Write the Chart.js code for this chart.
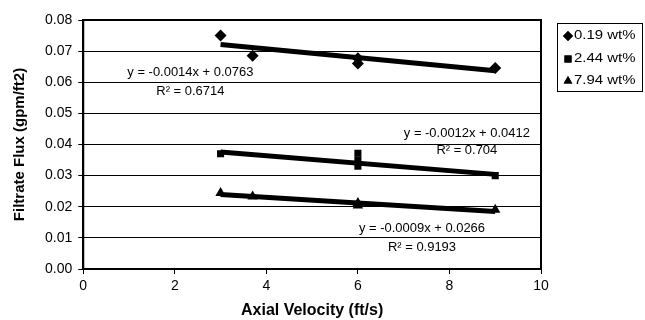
<!DOCTYPE html>
<html>
<head>
<meta charset="utf-8">
<script src="https://cdn.jsdelivr.net/npm/chart.js@4"></script>
<style>
  html, body { margin: 0; padding: 0; background: #fff; }
  #wrap { width: 645px; height: 320px; }
</style>
</head>
<body>
<div id="wrap"><canvas id="fluxChart" width="645" height="320"></canvas></div>
<script>
'use strict';

// series names
let seriesNames = ['0.19 wt%', '2.44 wt%', '7.94 wt%'];
let seriesMarkers = ['rectRot', 'rect', 'triangle'];

let lowX = [3, 3.7, 6, 6, 9];
let lowY = [0.0750, 0.0685, 0.0677, 0.0660, 0.0646];
let midX = [3, 6, 6, 6, 9];
let midY = [0.0370, 0.0372, 0.0350, 0.0330, 0.0300];
let highX = [3, 3.7, 6, 6, 9];
let highY = [0.0244, 0.0233, 0.0212, 0.0204, 0.0190];

// trend lines from the printed equations
let trendSlope = [-0.0014, -0.0012, -0.0009];
let trendIntercept = [0.0763, 0.0412, 0.0266];
let trendLabels = [
  ['y = -0.0014x + 0.0763', 'R² = 0.6714'],
  ['y = -0.0012x + 0.0412', 'R² = 0.704'],
  ['y = -0.0009x + 0.0266', 'R² = 0.9193']
];
let trendFrom = 3;
let trendTo = 9;

let xTicks = [0, 2, 4, 6, 8, 10];
let yTicks = [0, 0.01, 0.02, 0.03, 0.04, 0.05, 0.06, 0.07, 0.08];

// where the equation labels sit (in data units)
let labelSpots = [
  { x: 2.34, y: [0.0630, 0.0570] },
  { x: 8.38, y: [0.0434, 0.0380] },
  { x: 7.40, y: [0.0129, 0.0068] }
];

const FONT = '"Liberation Sans", Arial, sans-serif';

function toPoints(xs, ys) {
  let pts = [];
  for (let i = 0; i < xs.length; i++) {
    pts.push({ x: xs[i], y: ys[i] });
  }
  return pts;
}

let pointSets = [toPoints(lowX, lowY), toPoints(midX, midY), toPoints(highX, highY)];

let datasets = [];
for (let i = 0; i < seriesNames.length; i++) {
  datasets.push({
    label: 'trend ' + seriesNames[i],
    type: 'line',
    data: [
      { x: trendFrom, y: trendSlope[i] * trendFrom + trendIntercept[i] },
      { x: trendTo, y: trendSlope[i] * trendTo + trendIntercept[i] }
    ],
    borderColor: '#000',
    borderWidth: 5,
    pointRadius: 0,
    fill: false,
    order: 2
  });
}
for (let i = 0; i < seriesNames.length; i++) {
  datasets.push({
    label: seriesNames[i],
    data: pointSets[i],
    pointStyle: seriesMarkers[i],
    pointRadius: seriesMarkers[i] === 'rect' ? 5 : 6,
    backgroundColor: '#000',
    borderColor: '#000',
    borderWidth: 0,
    order: 1
  });
}

// text in the scan is a bit wider than Arial, so stretch it sideways
function wideText(ctx, text, x, y, stretch) {
  ctx.save();
  ctx.translate(x, y);
  ctx.scale(stretch, 1);
  ctx.fillText(text, 0, 0);
  ctx.restore();
}

let extras = {
  id: 'extras',
  afterDraw(chart) {
    let ctx = chart.ctx;
    let area = chart.chartArea;
    let xs = chart.scales.x;
    let ys = chart.scales.y;
    ctx.save();
    // plot frame
    ctx.strokeStyle = '#000';
    ctx.lineWidth = 2;
    ctx.strokeRect(area.left, area.top, area.right - area.left, area.bottom - area.top);

    // trend equations
    ctx.fillStyle = '#000';
    ctx.font = '12px ' + FONT;
    ctx.textAlign = 'center';
    ctx.textBaseline = 'middle';
    for (let i = 0; i < trendLabels.length; i++) {
      let px = xs.getPixelForValue(labelSpots[i].x);
      wideText(ctx, trendLabels[i][0], px, ys.getPixelForValue(labelSpots[i].y[0]), 1.08);
      wideText(ctx, trendLabels[i][1], px, ys.getPixelForValue(labelSpots[i].y[1]), 1.08);
    }

    // legend
    ctx.lineWidth = 1;
    ctx.strokeStyle = '#000';
    ctx.strokeRect(557.5, 23.5, 85, 68);
    ctx.font = '13px ' + FONT;
    ctx.textAlign = 'left';
    let rows = [35, 58, 80];
    for (let i = 0; i < seriesNames.length; i++) {
      Chart.helpers.drawPoint(ctx, {
        pointStyle: seriesMarkers[i],
        radius: 5,
        rotation: 0,
        borderWidth: 0
      }, 568, rows[i] + 1);
      ctx.fillStyle = '#000';
      ctx.fill();
      wideText(ctx, seriesNames[i], 574, rows[i], 1.15);
    }
    ctx.restore();
  }
};

let config = {
  type: 'scatter',
  data: { datasets: datasets },
  options: {
    responsive: false,
    animation: false,
    layout: { padding: { top: 20, right: 104, bottom: 0, left: 11 } },
    plugins: {
      legend: { display: false },
      tooltip: { enabled: false }
    },
    scales: {
      x: {
        type: 'linear',
        min: 0,
        max: 10,
        afterBuildTicks: (axis) => { axis.ticks = xTicks.map(v => ({ value: v })); },
        grid: { drawOnChartArea: false, color: '#000', tickLength: 5, tickColor: '#000' },
        border: { color: '#000', width: 2 },
        ticks: {
          color: '#000',
          font: { family: FONT, size: 14 },
          padding: 4
        },
        title: {
          display: true,
          text: 'Axial Velocity (ft/s)',
          color: '#000',
          font: { family: FONT, size: 16, weight: 'bold' },
          padding: { top: 2, bottom: 0 }
        }
      },
      y: {
        type: 'linear',
        min: 0,
        max: 0.08,
        afterBuildTicks: (axis) => { axis.ticks = yTicks.map(v => ({ value: v })); },
        grid: { color: '#000', lineWidth: 1, tickLength: 5, tickColor: '#000' },
        border: { color: '#000', width: 2 },
        ticks: {
          color: '#000',
          font: { family: FONT, size: 14 },
          padding: 6,
          callback: (v) => v.toFixed(2)
        },
        title: {
          display: true,
          text: 'Filtrate Flux (gpm/ft2)',
          color: '#000',
          font: { family: FONT, size: 15, weight: 'bold' },
          padding: { top: 0, bottom: 10 }
        }
      }
    }
  },
  plugins: [extras]
};

let fluxChart = new Chart(document.getElementById('fluxChart'), config);
</script>
</body>
</html>
